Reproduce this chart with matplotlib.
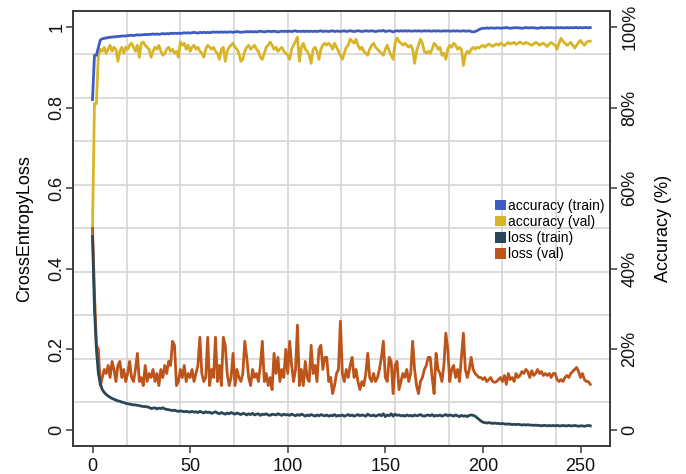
import numpy as np
import matplotlib
matplotlib.use("Agg")
import matplotlib.pyplot as plt
from matplotlib.patches import Patch

plt.rcParams["font.family"] = ["Liberation Sans", "DejaVu Sans"]

# epochs 0..255
epochs = list(range(256))

loss_val = [
    0.50, 0.34, 0.21, 0.20, 0.11, 0.13, 0.15, 0.14, 0.16, 0.13, 0.17, 0.15, 0.12, 0.16, 0.17, 0.13,
    0.15, 0.12, 0.14, 0.17, 0.13, 0.12, 0.15, 0.19, 0.12, 0.13, 0.11, 0.16, 0.12, 0.14, 0.13, 0.15,
    0.12, 0.14, 0.11, 0.15, 0.13, 0.16, 0.14, 0.17, 0.16, 0.22, 0.21, 0.11, 0.12, 0.15, 0.13, 0.16,
    0.12, 0.14, 0.13, 0.15, 0.12, 0.14, 0.16, 0.23, 0.14, 0.12, 0.13, 0.23, 0.11, 0.15, 0.13, 0.23,
    0.12, 0.16, 0.11, 0.23, 0.21, 0.14, 0.11, 0.13, 0.19, 0.11, 0.15, 0.13, 0.12, 0.14, 0.22, 0.18,
    0.13, 0.11, 0.15, 0.13, 0.14, 0.12, 0.16, 0.22, 0.12, 0.14, 0.11, 0.13, 0.10, 0.19, 0.14, 0.18,
    0.12, 0.15, 0.13, 0.20, 0.14, 0.22, 0.16, 0.12, 0.15, 0.26, 0.11, 0.15, 0.11, 0.17, 0.13, 0.12,
    0.21, 0.14, 0.16, 0.12, 0.20, 0.21, 0.15, 0.18, 0.18, 0.12, 0.13, 0.09, 0.11, 0.14, 0.15, 0.27,
    0.14, 0.12, 0.15, 0.13, 0.16, 0.18, 0.13, 0.15, 0.12, 0.10, 0.12, 0.11, 0.14, 0.19, 0.13, 0.12,
    0.14, 0.12, 0.13, 0.15, 0.18, 0.22, 0.13, 0.12, 0.18, 0.17, 0.09, 0.16, 0.17, 0.10, 0.12, 0.14,
    0.13, 0.15, 0.12, 0.14, 0.22, 0.15, 0.11, 0.09, 0.12, 0.13, 0.15, 0.16, 0.18, 0.18, 0.13, 0.09,
    0.19, 0.15, 0.14, 0.12, 0.16, 0.24, 0.20, 0.12, 0.15, 0.16, 0.13, 0.15, 0.12, 0.18, 0.24, 0.15,
    0.13, 0.15, 0.18, 0.15, 0.14, 0.135, 0.13, 0.13, 0.125, 0.13, 0.12, 0.125, 0.13, 0.12, 0.118, 0.12,
    0.125, 0.13, 0.12, 0.135, 0.113, 0.14, 0.125, 0.13, 0.12, 0.14, 0.13, 0.135, 0.145, 0.14, 0.15, 0.145,
    0.13, 0.147, 0.135, 0.14, 0.15, 0.14, 0.145, 0.135, 0.14, 0.135, 0.14, 0.13, 0.14, 0.14, 0.125, 0.12,
    0.125, 0.12, 0.13, 0.135, 0.13, 0.14, 0.145, 0.15, 0.155, 0.145, 0.13, 0.14, 0.125, 0.12, 0.12, 0.113,
]

loss_train = [
    0.48, 0.30, 0.20, 0.14, 0.115, 0.10, 0.093, 0.088, 0.084, 0.081, 0.078, 0.076, 0.074, 0.072, 0.071, 0.069,
    0.068, 0.066, 0.065, 0.064, 0.063, 0.062, 0.062, 0.061, 0.060, 0.059, 0.058, 0.058, 0.057, 0.056, 0.053, 0.054,
    0.055, 0.052, 0.054, 0.053, 0.055, 0.052, 0.051, 0.050, 0.049, 0.048, 0.049, 0.047, 0.046, 0.047, 0.046, 0.045,
    0.046, 0.045, 0.044, 0.046, 0.044, 0.045, 0.043, 0.046, 0.044, 0.042, 0.045, 0.043, 0.044, 0.041, 0.043, 0.045,
    0.042, 0.040, 0.043, 0.041, 0.039, 0.042, 0.040, 0.043, 0.041, 0.039, 0.042, 0.040, 0.038, 0.041, 0.040, 0.037,
    0.040, 0.038, 0.041, 0.037, 0.039, 0.040, 0.036, 0.039, 0.038, 0.040, 0.037, 0.036, 0.039, 0.038, 0.037, 0.040,
    0.038, 0.036, 0.039, 0.037, 0.038, 0.036, 0.039, 0.037, 0.035, 0.038, 0.036, 0.039, 0.037, 0.034, 0.037, 0.035,
    0.038, 0.036, 0.034, 0.037, 0.035, 0.038, 0.036, 0.035, 0.037, 0.034, 0.036, 0.035, 0.038, 0.034, 0.036, 0.035,
    0.037, 0.034, 0.036, 0.038, 0.035, 0.037, 0.034, 0.036, 0.038, 0.035, 0.037, 0.036, 0.034, 0.039, 0.036, 0.035,
    0.037, 0.034, 0.036, 0.038, 0.035, 0.040, 0.033, 0.037, 0.035, 0.040, 0.034, 0.039, 0.036, 0.037, 0.035, 0.036,
    0.034, 0.037, 0.035, 0.036, 0.034, 0.037, 0.035, 0.036, 0.038, 0.035, 0.034, 0.036, 0.037, 0.035, 0.038, 0.034,
    0.036, 0.035, 0.037, 0.034, 0.036, 0.038, 0.035, 0.037, 0.036, 0.034, 0.037, 0.035, 0.033, 0.036, 0.034, 0.035,
    0.033, 0.036, 0.037, 0.036, 0.034, 0.030, 0.026, 0.022, 0.019, 0.018, 0.017, 0.018, 0.017, 0.016, 0.017, 0.016,
    0.016, 0.015, 0.016, 0.015, 0.014, 0.015, 0.014, 0.013, 0.014, 0.013, 0.014, 0.013, 0.012, 0.013, 0.012, 0.013,
    0.012, 0.012, 0.011, 0.012, 0.011, 0.011, 0.010, 0.011, 0.011, 0.010, 0.011, 0.010, 0.011, 0.010, 0.011, 0.010,
    0.010, 0.011, 0.010, 0.010, 0.011, 0.010, 0.010, 0.011, 0.010, 0.009, 0.010, 0.010, 0.009, 0.010, 0.011, 0.010,
]

acc_train = [
    0.82, 0.93, 0.93, 0.95, 0.968, 0.971, 0.972, 0.973, 0.974, 0.975, 0.975, 0.976, 0.976, 0.977, 0.977, 0.978,
    0.978, 0.978, 0.979, 0.979, 0.980, 0.979, 0.980, 0.981, 0.980, 0.981, 0.981, 0.982, 0.981, 0.982, 0.982, 0.983,
    0.982, 0.983, 0.982, 0.983, 0.984, 0.983, 0.984, 0.983, 0.985, 0.984, 0.985, 0.984, 0.985, 0.984, 0.985, 0.986,
    0.985, 0.986, 0.985, 0.986, 0.987, 0.986, 0.985, 0.987, 0.986, 0.987, 0.986, 0.987, 0.986, 0.987, 0.988, 0.987,
    0.988, 0.987, 0.988, 0.987, 0.988, 0.987, 0.988, 0.988, 0.987, 0.988, 0.989, 0.988, 0.987, 0.988, 0.988, 0.989,
    0.988, 0.989, 0.988, 0.989, 0.988, 0.989, 0.990, 0.989, 0.988, 0.989, 0.990, 0.989, 0.989, 0.990, 0.989, 0.988,
    0.989, 0.990, 0.989, 0.990, 0.989, 0.990, 0.989, 0.990, 0.991, 0.989, 0.990, 0.989, 0.990, 0.989, 0.990, 0.989,
    0.990, 0.989, 0.990, 0.989, 0.990, 0.991, 0.989, 0.990, 0.990, 0.989, 0.990, 0.991, 0.989, 0.990, 0.990, 0.989,
    0.990, 0.991, 0.989, 0.990, 0.991, 0.990, 0.989, 0.990, 0.991, 0.990, 0.989, 0.990, 0.991, 0.990, 0.990, 0.991,
    0.990, 0.989, 0.990, 0.991, 0.990, 0.992, 0.989, 0.990, 0.991, 0.990, 0.988, 0.990, 0.991, 0.990, 0.991, 0.990,
    0.991, 0.990, 0.991, 0.990, 0.990, 0.991, 0.990, 0.991, 0.990, 0.990, 0.991, 0.990, 0.991, 0.990, 0.990, 0.991,
    0.990, 0.991, 0.990, 0.990, 0.991, 0.990, 0.991, 0.990, 0.990, 0.991, 0.990, 0.991, 0.990, 0.990, 0.991, 0.990,
    0.990, 0.991, 0.989, 0.988, 0.989, 0.991, 0.994, 0.996, 0.997, 0.997, 0.998, 0.997, 0.998, 0.998, 0.997, 0.998,
    0.998, 0.997, 0.998, 0.998, 0.999, 0.998, 0.997, 0.998, 0.998, 0.999, 0.998, 0.998, 0.997, 0.998, 0.999, 0.998,
    0.998, 0.999, 0.998, 0.998, 0.997, 0.998, 0.999, 0.998, 0.998, 0.999, 0.998, 0.999, 0.998, 0.998, 0.999, 0.998,
    0.999, 0.998, 0.998, 0.999, 0.998, 0.999, 0.998, 0.999, 0.999, 0.998, 0.999, 0.998, 0.999, 0.999, 0.998, 0.999,
]

acc_val = [
    0.50, 0.81, 0.81, 0.93, 0.945, 0.94, 0.95, 0.935, 0.945, 0.955, 0.94, 0.95, 0.945, 0.915, 0.94, 0.95,
    0.935, 0.95, 0.945, 0.955, 0.96, 0.95, 0.94, 0.955, 0.925, 0.96, 0.963, 0.955, 0.95, 0.945, 0.925, 0.94,
    0.95, 0.945, 0.955, 0.94, 0.93, 0.935, 0.945, 0.95, 0.94, 0.945, 0.935, 0.94, 0.925, 0.963, 0.955, 0.96,
    0.945, 0.955, 0.94, 0.95, 0.955, 0.945, 0.95, 0.94, 0.935, 0.925, 0.945, 0.955, 0.95, 0.945, 0.95, 0.94,
    0.935, 0.92, 0.945, 0.95, 0.915, 0.94, 0.95, 0.955, 0.96, 0.95, 0.945, 0.935, 0.915, 0.92, 0.94, 0.95,
    0.955, 0.945, 0.95, 0.955, 0.945, 0.94, 0.925, 0.92, 0.935, 0.95, 0.955, 0.963, 0.955, 0.945, 0.95, 0.94,
    0.945, 0.95, 0.94, 0.935, 0.93, 0.92, 0.945, 0.955, 0.965, 0.975, 0.915, 0.95, 0.96, 0.945, 0.94, 0.93,
    0.91, 0.945, 0.95, 0.94, 0.92, 0.945, 0.955, 0.96, 0.955, 0.96, 0.955, 0.945, 0.96, 0.95, 0.94, 0.93,
    0.92, 0.935, 0.95, 0.955, 0.97, 0.965, 0.96, 0.97, 0.955, 0.945, 0.95, 0.94, 0.935, 0.93, 0.945, 0.955,
    0.96, 0.95, 0.945, 0.94, 0.935, 0.93, 0.945, 0.955, 0.94, 0.93, 0.92, 0.96, 0.973, 0.965, 0.96, 0.955,
    0.96, 0.955, 0.95, 0.955, 0.945, 0.91, 0.94, 0.955, 0.97, 0.96, 0.94, 0.935, 0.94, 0.935, 0.945, 0.96,
    0.955, 0.945, 0.95, 0.93, 0.935, 0.92, 0.945, 0.955, 0.95, 0.96, 0.955, 0.945, 0.95, 0.945, 0.905, 0.93,
    0.94, 0.935, 0.945, 0.95, 0.945, 0.95, 0.948, 0.952, 0.955, 0.95, 0.955, 0.958, 0.955, 0.952, 0.956, 0.958,
    0.955, 0.96, 0.957, 0.954, 0.958, 0.962, 0.958, 0.96, 0.962, 0.957, 0.96, 0.963, 0.96, 0.958, 0.962, 0.96,
    0.957, 0.955, 0.958, 0.962, 0.96, 0.955, 0.958, 0.96, 0.956, 0.952, 0.958, 0.962, 0.958, 0.955, 0.945, 0.96,
    0.972, 0.965, 0.96, 0.955, 0.958, 0.962, 0.955, 0.948, 0.955, 0.962, 0.967, 0.96, 0.955, 0.962, 0.965, 0.965,
]

labels = ["accuracy (train)", "accuracy (val)", "loss (train)", "loss (val)"]
colors = ["#3F5BC4", "#D8B526", "#2B4657", "#BD5419"]

XLIM = (-10, 265)
YLIM = (-0.04, 1.04)
EDGE = "#3a3a3a"

fig = plt.figure(figsize=(6.86, 4.74), dpi=100)
ax = fig.add_axes([0.1064, 0.0591, 0.7825, 0.9177])
ax2 = ax.twinx()

# grid splits the plot area into 10 equal parts each way
for gx in np.linspace(XLIM[0], XLIM[1], 11)[1:-1]:
    ax.axvline(gx, color="#d6d6d6", lw=1.2, zorder=0)
for gy in np.linspace(YLIM[0], YLIM[1], 11)[1:-1]:
    ax.axhline(gy, color="#d6d6d6", lw=1.2, zorder=0)

ax.plot(epochs, acc_train, color=colors[0], lw=2.0, zorder=3)
ax.plot(epochs, acc_val, color=colors[1], lw=2.0, zorder=2)
ax.plot(epochs, loss_train, color=colors[2], lw=2.0, zorder=3)
ax.plot(epochs, loss_val, color=colors[3], lw=2.0, zorder=2)

ax.set_xlim(*XLIM)
ax.set_ylim(*YLIM)
ax2.set_ylim(*YLIM)

ax.set_xticks([0, 50, 100, 150, 200, 250])
ax.set_yticks([0, 0.2, 0.4, 0.6, 0.8, 1.0])
ax.set_yticklabels(["0", "0.2", "0.4", "0.6", "0.8", "1"], rotation=90, va="center")
ax2.set_yticks([0, 0.2, 0.4, 0.6, 0.8, 1.0])
ax2.set_yticklabels(["0", "20%", "40%", "60%", "80%", "100%"], rotation=90, va="center")

for a in (ax, ax2):
    a.tick_params(labelsize=13, length=5, width=1.1, color=EDGE, labelcolor="#111111")
    for sp in a.spines.values():
        sp.set_color(EDGE)
        sp.set_linewidth(1.2)
ax.tick_params(axis="y", pad=0.5)

ax.set_ylabel("CrossEntropyLoss", fontsize=13, labelpad=11)
ax2.set_ylabel("Accuracy (%)", fontsize=13, labelpad=12)

handles = [Patch(facecolor=c, edgecolor="none") for c in colors]
ax.legend(handles, labels, loc="upper left", bbox_to_anchor=(0.786, 0.568),
          frameon=False, fontsize=10, handlelength=0.8, handleheight=0.8,
          handletextpad=0.15, labelspacing=0.15, borderpad=0, borderaxespad=0)

fig.savefig("out.png", dpi=100)
